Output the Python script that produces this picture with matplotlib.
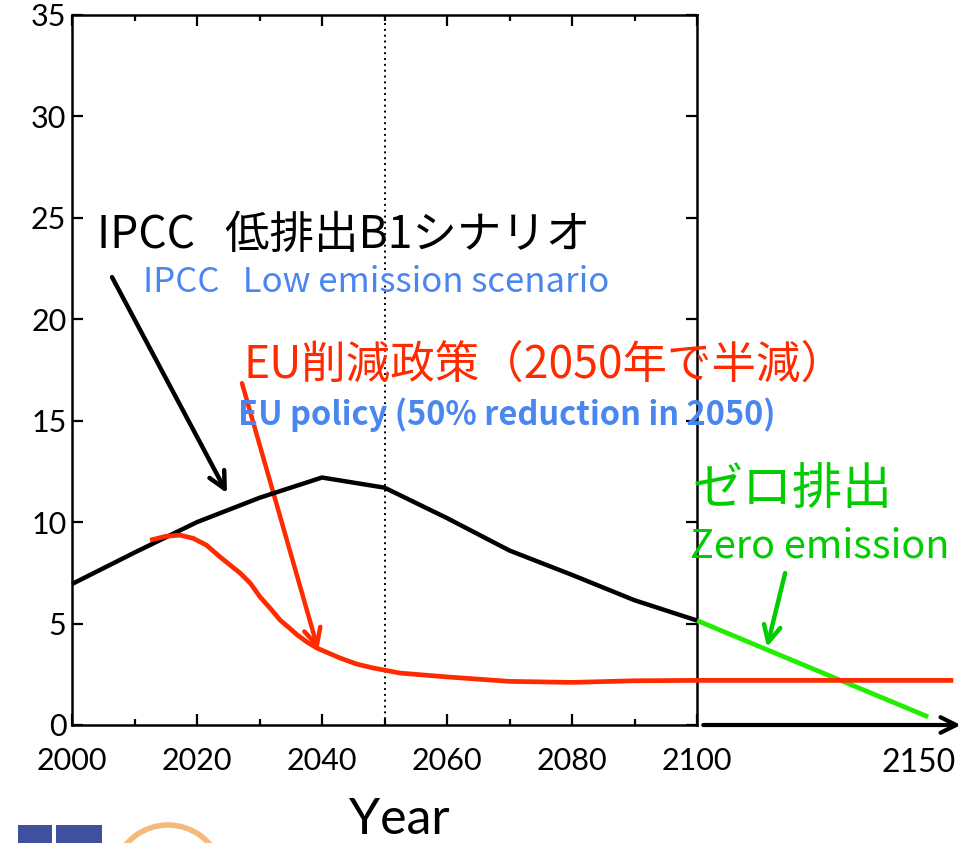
import numpy as np
import matplotlib.pyplot as plt
from matplotlib.ticker import MultipleLocator
from matplotlib.patches import Arc, Rectangle

plt.rcParams['font.family'] = ['Noto Sans CJK JP', 'DejaVu Sans']

# IPCC low emission B1 scenario (black)
ipcc_years = [2000, 2010, 2020, 2030, 2040, 2050, 2060, 2070, 2080, 2090, 2100]
ipcc_vals = [6.95, 8.5, 10.0, 11.2, 12.2, 11.7, 10.2, 8.6, 7.4, 6.15, 5.15]

# EU policy (red)
eu_years = [2012.5, 2015, 2017.3, 2019.4, 2021.5, 2023.7, 2026.9, 2028.5, 2030.1, 2031.7,
            2033.3, 2034.6, 2036, 2037.6, 2039.2, 2042.9, 2045.6, 2048.2, 2052.5, 2060,
            2070, 2080, 2090, 2100, 2141]
eu_vals = [9.11, 9.3, 9.36, 9.2, 8.87, 8.28, 7.49, 7.0, 6.31, 5.76,
           5.17, 4.83, 4.45, 4.09, 3.79, 3.30, 3.0, 2.81, 2.56, 2.37,
           2.15, 2.1, 2.18, 2.2, 2.2]

# zero emission (green)
zero_years = [2100, 2137]
zero_vals = [5.15, 0.4]

xticks = [2000, 2020, 2040, 2060, 2080, 2100]
yticks = [0, 5, 10, 15, 20, 25, 30, 35]

W, H = 961, 843
fig = plt.figure(figsize=(W / 100, H / 100), dpi=100)
ax = fig.add_axes([72 / W, 1 - 725 / H, (697 - 72) / W, (725 - 15) / H])


def px(x, y):
    return x / W, 1 - y / H


ax.plot(ipcc_years, ipcc_vals, color='black', lw=3.2, clip_on=False, zorder=4, solid_capstyle='butt')
ax.plot(eu_years, eu_vals, color='#ff2a00', lw=3.4, clip_on=False, zorder=4,
        solid_capstyle='butt', solid_joinstyle='round')
ax.plot(zero_years, zero_vals, color='#22ee00', lw=3.4, clip_on=False, zorder=3, solid_capstyle='butt')

ax.axvline(2050, color='black', lw=1.4, ls=(0, (1, 2)), zorder=2)

ax.set_xlim(2000, 2100)
ax.set_ylim(0, 35)
ax.set_xticks(xticks)
ax.set_yticks(yticks)
ax.xaxis.set_minor_locator(MultipleLocator(10))
ax.tick_params(which='both', direction='in', top=True, right=True, width=1.6)
ax.tick_params(which='major', length=8)
ax.tick_params(which='minor', length=4)
ax.tick_params(axis='x', pad=16, labelsize=22)
ax.tick_params(axis='y', pad=4, labelsize=22)
for lab in ax.get_xticklabels() + ax.get_yticklabels():
    lab.set_fontfamily('Lato')
for s in ax.spines.values():
    s.set_linewidth(1.8)

# axis extension beyond 2100
ax.annotate('', xy=(2142.2, 0), xytext=(2101, 0), xycoords='data',
            arrowprops=dict(arrowstyle='->', lw=3, color='black', mutation_scale=28,
                            shrinkA=0, shrinkB=0), annotation_clip=False)
fig.text(*px(919, 763), '2150', fontsize=23, family='Lato', ha='center', va='center')
fig.text(*px(399, 820), 'Year', fontsize=36, family='Lato', ha='center', va='center')

# labels
fig.text(*px(97, 235), 'IPCC   低排出B1シナリオ', fontsize=32, color='black', ha='left', va='center', zorder=1)
fig.text(*px(143, 283), 'IPCC   Low emission scenario', fontsize=25, color='#4a86f0', ha='left', va='center', zorder=1)
fig.text(*px(243, 365), 'EU削減政策（2050年で半減）', fontsize=32, color='#ff2a00', ha='left', va='center', zorder=1)
fig.text(*px(238, 415), 'EU policy (50% reduction in 2050)', fontsize=23.5, color='#4a86f0', weight='bold', ha='left', va='center', zorder=1)
fig.text(*px(693, 490), 'ゼロ排出', fontsize=36, color='#00cc00', ha='left', va='center', zorder=1)
fig.text(*px(690, 547), 'Zero emission', fontsize=28.5, color='#00cc00', ha='left', va='center', zorder=1)

# arrows
arrow_kw = dict(arrowstyle='->', lw=3.2, mutation_scale=30, shrinkA=0, shrinkB=0)
ax.annotate('', xy=(2024.8, 11.43), xytext=(2006.4, 22.08), annotation_clip=False,
            arrowprops=dict(color='black', **arrow_kw))
ax.annotate('', xy=(2039.4, 3.70), xytext=(2027.2, 16.85), annotation_clip=False,
            arrowprops=dict(color='#ff2a00', **arrow_kw))
ax.annotate('', xy=(2111.2, 3.84), xytext=(2114.1, 7.49), annotation_clip=False,
            arrowprops=dict(color='#00cc00', **arrow_kw))

# partial logo at the bottom-left corner
fig.add_artist(Arc(px(168, 880), 110 / W, 110 / H, theta1=20, theta2=160,
                   transform=fig.transFigure, color='#f5b97a', lw=4))
for x0, w in [(18, 34), (56, 46)]:
    fig.add_artist(Rectangle(px(x0, 843), w / W, 18 / H, transform=fig.transFigure,
                             color='#4050a0', lw=0))

fig.savefig('out.png', dpi=100)
